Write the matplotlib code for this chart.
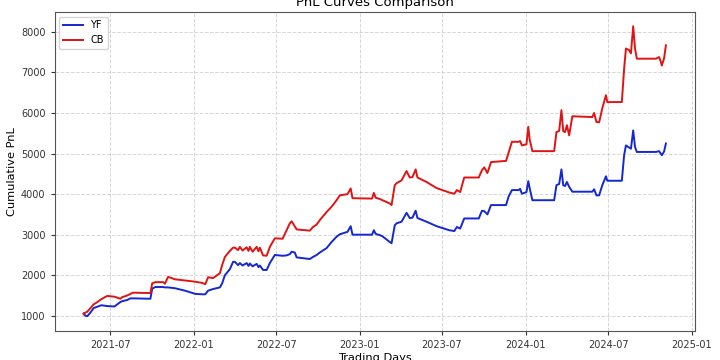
import pandas as pd
import matplotlib.pyplot as plt
import matplotlib.dates as mdates

# values
dates = [
   "2021-05-03", "2021-05-07", "2021-05-11", "2021-05-18", "2021-05-25", "2021-06-01",
   "2021-06-11", "2021-06-24", "2021-07-10", "2021-07-23", "2021-07-27", "2021-08-07",
   "2021-08-14", "2021-08-20", "2021-09-27", "2021-10-01", "2021-10-08", "2021-10-25",
   "2021-10-29", "2021-11-05", "2021-11-20", "2021-12-12", "2022-01-04", "2022-01-19",
   "2022-01-26", "2022-02-01", "2022-02-12", "2022-02-27", "2022-03-04", "2022-03-10",
   "2022-03-21", "2022-03-28", "2022-04-01", "2022-04-08", "2022-04-12", "2022-04-18",
   "2022-04-27", "2022-05-01", "2022-05-04", "2022-05-10", "2022-05-19", "2022-05-23",
   "2022-05-26", "2022-06-02", "2022-06-10", "2022-06-17", "2022-06-28", "2022-07-15",
   "2022-07-24", "2022-07-31", "2022-08-04", "2022-08-11", "2022-08-15", "2022-09-13",
   "2022-09-20", "2022-09-28", "2022-10-05", "2022-10-20", "2022-10-31", "2022-11-11",
   "2022-11-18", "2022-12-05", "2022-12-12", "2022-12-16", "2023-01-28", "2023-02-01",
   "2023-02-05", "2023-02-14", "2023-02-20", "2023-03-08", "2023-03-12", "2023-03-19",
   "2023-03-23", "2023-04-03", "2023-04-14", "2023-04-21", "2023-04-27", "2023-05-04",
   "2023-05-08", "2023-05-28", "2023-06-19", "2023-07-17", "2023-07-28", "2023-08-03",
   "2023-08-10", "2023-08-19", "2023-09-20", "2023-09-27", "2023-10-02", "2023-10-09",
   "2023-10-17", "2023-11-19", "2023-11-25", "2023-12-02", "2023-12-17", "2023-12-20",
   "2023-12-24", "2024-01-03", "2024-01-07", "2024-01-10", "2024-01-16", "2024-03-04",
   "2024-03-09", "2024-03-15", "2024-03-20", "2024-03-24", "2024-03-28", "2024-04-01",
   "2024-04-06", "2024-04-13", "2024-05-27", "2024-05-31", "2024-06-05", "2024-06-11",
   "2024-06-18", "2024-06-26", "2024-06-29", "2024-07-31", "2024-08-05", "2024-08-09",
   "2024-08-16", "2024-08-20", "2024-08-25", "2024-08-29", "2024-09-02", "2024-10-14",
   "2024-10-21", "2024-10-25", "2024-10-27", "2024-11-01", "2024-11-05",
]

cb_pnl = [
   1040, 1080, 1100, 1190, 1280, 1330,
   1410, 1490, 1470, 1420, 1460, 1500,
   1540, 1570, 1560, 1800, 1830, 1830,
   1790, 1960, 1900, 1870, 1840, 1810,
   1780, 1950, 1930, 2050, 2250, 2450,
   2600, 2680, 2680, 2620, 2700, 2610,
   2690, 2600, 2700, 2580, 2700, 2590,
   2680, 2490, 2480, 2700, 2910, 2900,
   3110, 3280, 3330, 3200, 3130, 3100,
   3190, 3250, 3360, 3560, 3690, 3850,
   3970, 4000, 4140, 3900, 3890, 4030,
   3910, 3880, 3850, 3770, 3730, 4220,
   4270, 4340, 4570, 4410, 4420, 4610,
   4410, 4300, 4150, 4040, 4010, 4100,
   4050, 4410, 4410, 4590, 4660, 4520,
   4790, 4820, 5040, 5290, 5290, 5310,
   5200, 5230, 5660, 5350, 5060, 5060,
   5530, 5560, 6070, 5550, 5530, 5700,
   5450, 5920, 5900, 6000, 5780, 5770,
   6120, 6440, 6270, 6270, 7090, 7590,
   7550, 7470, 8140, 7590, 7340, 7340,
   7380, 7260, 7170, 7350, 7670,
]

yf_pnl = [
   1060, 1000, 990, 1080, 1190, 1220,
   1260, 1240, 1230, 1340, 1360, 1390,
   1430, 1430, 1420, 1670, 1710, 1710,
   1700, 1700, 1680, 1620, 1540, 1530,
   1530, 1620, 1660, 1700, 1800, 2000,
   2150, 2330, 2330, 2250, 2300, 2240,
   2300, 2230, 2290, 2220, 2280, 2200,
   2240, 2130, 2130, 2300, 2500, 2480,
   2490, 2520, 2580, 2560, 2440, 2400,
   2450, 2500, 2560, 2670, 2820, 2950,
   3010, 3070, 3210, 3000, 3000, 3110,
   3020, 2990, 2960, 2820, 2790, 3230,
   3280, 3320, 3540, 3410, 3420, 3590,
   3410, 3320, 3210, 3110, 3090, 3190,
   3150, 3400, 3400, 3590, 3580, 3500,
   3730, 3730, 3950, 4100, 4100, 4130,
   4010, 4050, 4320, 4150, 3850, 3850,
   4220, 4250, 4610, 4220, 4200, 4300,
   4180, 4060, 4060, 4120, 3970, 3970,
   4220, 4440, 4330, 4330, 4960, 5200,
   5150, 5120, 5570, 5160, 5040, 5040,
   5060, 4990, 4960, 5050, 5250,
]

days = pd.to_datetime(dates)

fig = plt.figure(figsize=(7.2, 3.6), dpi=100)
ax = fig.add_axes([0.0757, 0.0814, 0.8896, 0.886])

ax.plot(days, yf_pnl, color="#1428d2", linewidth=1.4, label="YF")
ax.plot(days, cb_pnl, color="#e01414", linewidth=1.4, label="CB")

ax.set_title("PnL Curves Comparison", fontsize=9.5, pad=4)
ax.set_xlabel("Trading Days", fontsize=8.2, labelpad=2)
ax.set_ylabel("Cumulative PnL", fontsize=8.2, labelpad=3)

ax.xaxis.set_major_locator(mdates.MonthLocator(bymonth=(1, 7)))
ax.xaxis.set_major_formatter(mdates.DateFormatter("%Y-%m"))
ax.tick_params(labelsize=7, length=3, colors="#333333")
for side in ax.spines.values():
   side.set_color("#555555")

ax.grid(True, linestyle="--", linewidth=0.7, alpha=0.5)
ax.legend(loc="upper left", fontsize=7)

plt.savefig("out.png", dpi=100)
